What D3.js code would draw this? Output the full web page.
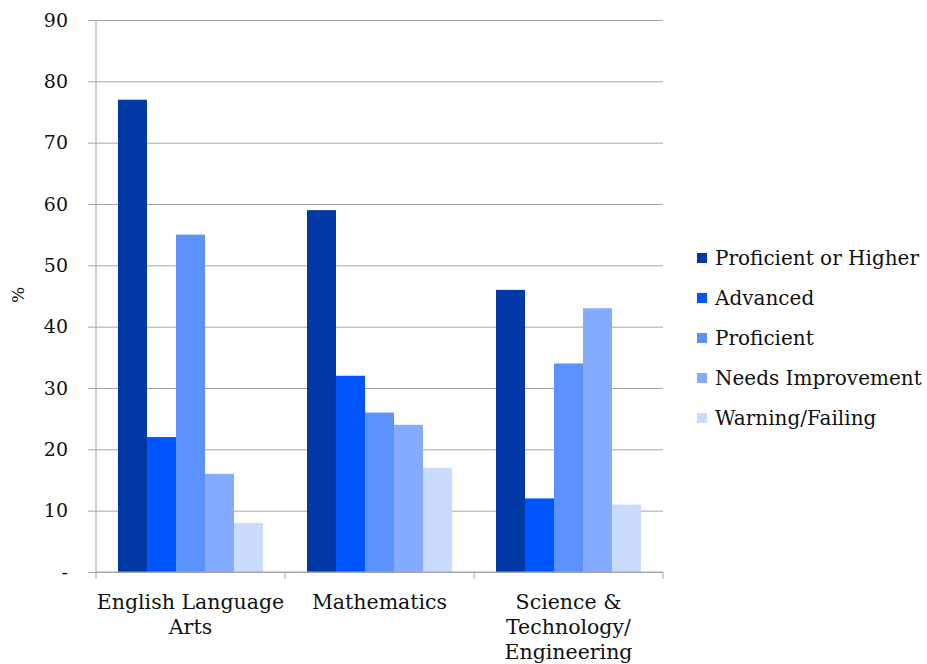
<!DOCTYPE html>
<html>
<head>
<meta charset="utf-8">
<script src="https://cdn.jsdelivr.net/npm/d3@7"></script>
<style>
  body { margin: 0; background: #fff; }
  text { font-family: "DejaVu Serif", "Liberation Serif", serif; fill: #111; }
</style>
</head>
<body>
<div id="chart"></div>
<script>
// data
var categories = [["English Language", "Arts"], ["Mathematics"], ["Science &", "Technology/", "Engineering"]];
var series = ["Proficient or Higher", "Advanced", "Proficient", "Needs Improvement", "Warning/Failing"];
var colors = ["#0038a6", "#0055ff", "#5c92ff", "#84abff", "#c9dbff"];
var values = [
  [77, 22, 55, 16, 8],   // English Language Arts
  [59, 32, 26, 24, 17],  // Mathematics
  [46, 12, 34, 43, 11]   // Science & Technology/Engineering
];
var yTicks = [0, 10, 20, 30, 40, 50, 60, 70, 80, 90];

var svg = d3.select("#chart").append("svg")
    .attr("width", 927)
    .attr("height", 664);

var margin = {top: 20, left: 96},
    width = 567,
    height = 552;

var x0 = d3.scaleBand().domain(d3.range(categories.length)).range([0, width]).paddingInner(0).paddingOuter(0);
var x1 = d3.scaleBand().domain(d3.range(series.length)).range([22, x0.bandwidth() - 22]);
var y = d3.scaleLinear().domain([0, 90]).range([height, 0]);

var g = svg.append("g")
    .attr("transform", "translate(" + margin.left + "," + margin.top + ")");

// gridlines + y axis
var yAxis = g.append("g")
    .attr("class", "y axis")
    .call(d3.axisLeft(y).tickValues(yTicks).tickSize(8)
      .tickFormat(function(d) { return d === 0 ? "-" : d; }));
yAxis.select(".domain").remove();
yAxis.selectAll("line").attr("stroke", "#a6a6a6").attr("x2", width);
yAxis.selectAll(".tick line").attr("x1", -8);
yAxis.selectAll("text")
    .attr("x", -28)
    .style("font-size", "19px")
    .style("font-family", "'DejaVu Serif', 'Liberation Serif', serif")
    .attr("fill", "#111");

g.append("line")
    .attr("x1", 0).attr("x2", 0)
    .attr("y1", 0).attr("y2", height)
    .attr("stroke", "#a6a6a6");

// bars
var groups = g.selectAll(".grp")
    .data(values)
  .enter().append("g")
    .attr("class", "grp")
    .attr("transform", function(d, i) { return "translate(" + x0(i) + ",0)"; });

groups.selectAll("rect")
    .data(function(d) { return d; })
  .enter().append("rect")
    .attr("x", function(d, i) { return x1(i); })
    .attr("width", x1.bandwidth())
    .attr("y", function(d) { return y(d); })
    .attr("height", function(d) { return height - y(d); })
    .attr("fill", function(d, i) { return colors[i]; });

// x axis
var xTicks = d3.range(categories.length + 1).map(function(i) { return i * x0.bandwidth(); });
g.append("line")
    .attr("x1", 0).attr("x2", width)
    .attr("y1", height).attr("y2", height)
    .attr("stroke", "#a6a6a6");
g.selectAll(".xtick")
    .data(xTicks)
  .enter().append("line")
    .attr("x1", function(d) { return d; }).attr("x2", function(d) { return d; })
    .attr("y1", height).attr("y2", height + 7)
    .attr("stroke", "#a6a6a6");

g.selectAll(".xlabel")
    .data(categories)
  .enter().append("text")
    .attr("class", "xlabel")
    .attr("text-anchor", "middle")
    .attr("transform", function(d, i) { return "translate(" + (x0(i) + x0.bandwidth() / 2) + "," + (height + 37) + ")"; })
    .style("font-size", "20.5px")
    .selectAll("tspan")
    .data(function(d) { return d; })
  .enter().append("tspan")
    .attr("x", 0)
    .attr("dy", function(d, i) { return i === 0 ? 0 : 25; })
    .text(function(d) { return d; });

// y label
svg.append("text")
    .attr("transform", "translate(24,295) rotate(-90)")
    .attr("text-anchor", "middle")
    .style("font-size", "17px")
    .text("%");

// legend
var legend = svg.append("g").attr("transform", "translate(697,258)");
var item = legend.selectAll(".item")
    .data(series)
  .enter().append("g")
    .attr("transform", function(d, i) { return "translate(0," + i * 40 + ")"; });
item.append("rect")
    .attr("x", 0).attr("y", -5)
    .attr("width", 10).attr("height", 10)
    .attr("fill", function(d, i) { return colors[i]; });
item.append("text")
    .attr("x", 18)
    .attr("dy", "0.35em")
    .style("font-size", "20px")
    .text(function(d) { return d; });
</script>
</body>
</html>
